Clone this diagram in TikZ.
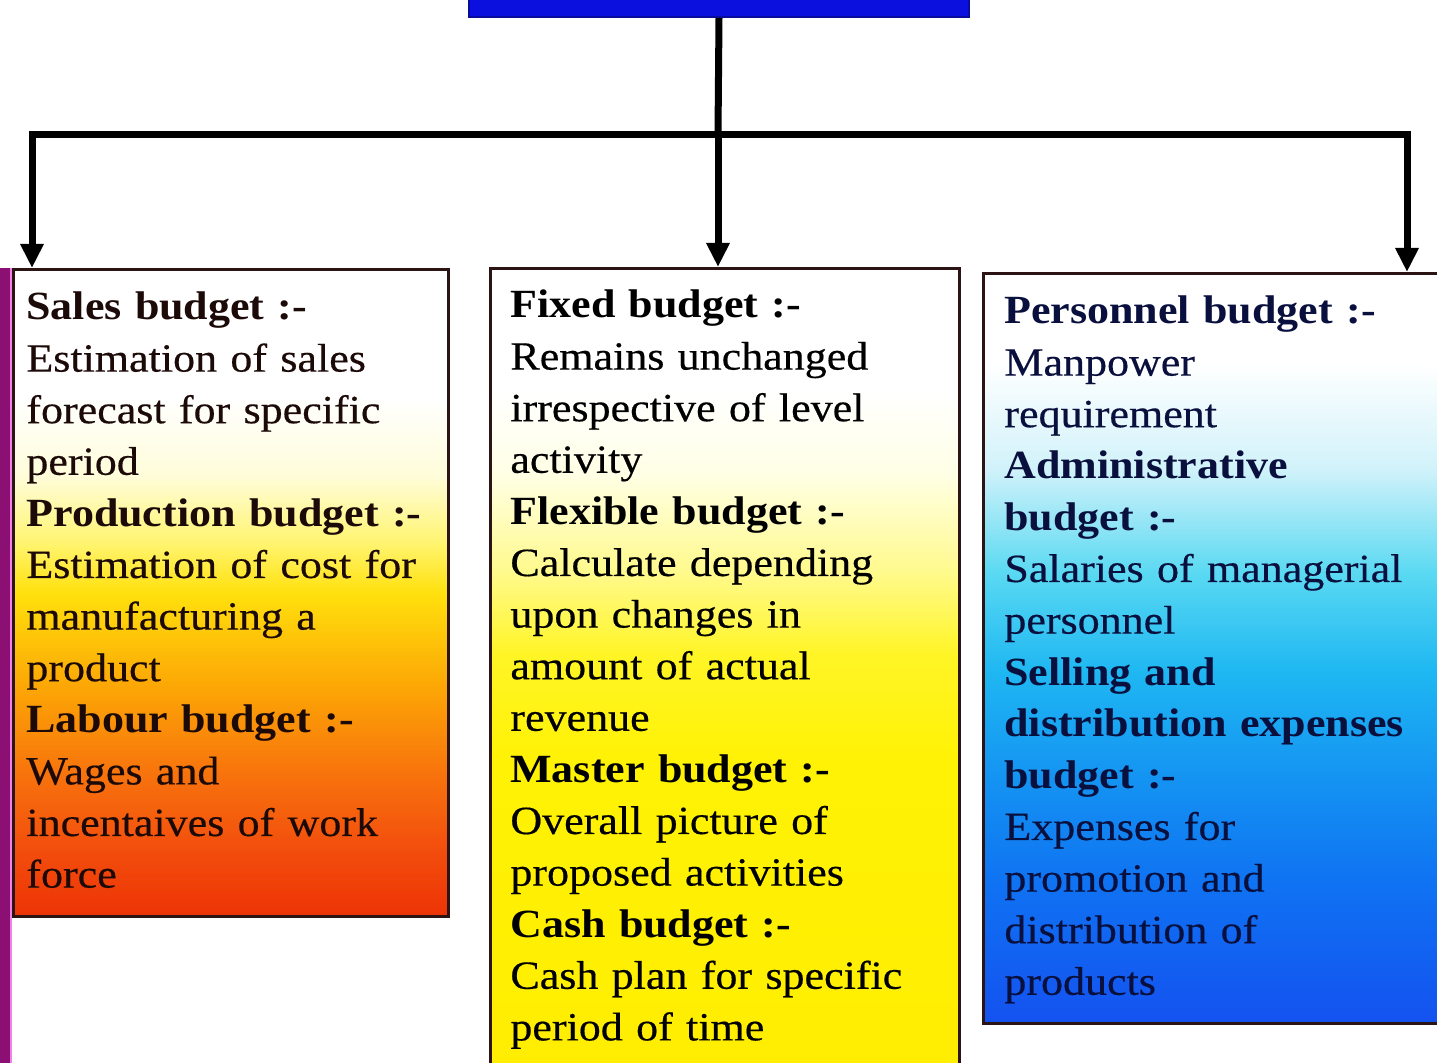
\documentclass[tikz,border=0pt]{standalone}
\usepackage{fontspec}
\setmainfont{Liberation Serif}[FakeStretch=1.1, WordSpace=0.6,
  UprightFeatures={FakeBold=0.4}]
\usetikzlibrary{arrows.meta}

\definecolor{rootblue}{RGB}{12,16,222}
\definecolor{edgedark}{RGB}{45,20,20}
\definecolor{stripdark}{RGB}{140,15,115}
\definecolor{strippink}{RGB}{240,130,230}
\definecolor{navytext}{RGB}{10,16,62}
\definecolor{browntext}{RGB}{28,10,8}

% white -> yellow -> orange -> red, top to bottom
\pgfdeclareverticalshading{salesfill}{100bp}{
  rgb(0bp)=(0.93,0.20,0.02);
  rgb(25bp)=(0.93,0.20,0.02);
  rgb(30bp)=(0.95,0.30,0.05);
  rgb(36bp)=(0.97,0.45,0.05);
  rgb(43bp)=(0.99,0.66,0.02);
  rgb(50bp)=(1,0.88,0.05);
  rgb(54bp)=(1,0.96,0.45);
  rgb(59bp)=(1,0.99,0.85);
  rgb(65bp)=(1,1,1);
  rgb(100bp)=(1,1,1)}

% white -> yellow, top to bottom
\pgfdeclareverticalshading{fixedfill}{100bp}{
  rgb(0bp)=(1,0.93,0);
  rgb(25bp)=(1,0.93,0);
  rgb(45bp)=(1,0.95,0.02);
  rgb(51.5bp)=(1,0.96,0.15);
  rgb(56.5bp)=(1,0.98,0.55);
  rgb(62.5bp)=(1,1,0.9);
  rgb(67.5bp)=(1,1,1);
  rgb(100bp)=(1,1,1)}

% white -> cyan -> blue, top to bottom
\pgfdeclareverticalshading{personnelfill}{100bp}{
  rgb(0bp)=(0.08,0.32,0.94);
  rgb(25bp)=(0.08,0.32,0.94);
  rgb(34.5bp)=(0.06,0.45,0.95);
  rgb(41.5bp)=(0.08,0.58,0.95);
  rgb(48.5bp)=(0.12,0.72,0.95);
  rgb(55bp)=(0.35,0.85,0.95);
  rgb(62bp)=(0.82,0.95,0.98);
  rgb(69bp)=(1,1,1);
  rgb(100bp)=(1,1,1)}

\begin{document}
\begin{tikzpicture}[x=0.5pt,y=-0.5pt,
  wire/.style={line width=3.5pt, black},
  drop/.style={wire, -{Triangle[length=12pt,width=11pt]}},
  panel/.style={rectangle, draw=edgedark, line width=1.5pt, inner sep=0pt, anchor=north west},
  body/.style={anchor=base west, inner sep=0pt, text width=270pt, align=left,
               font=\fontsize{20}{25.8}\selectfont},
]
\useasboundingbox (0,0) rectangle (1437,1063);
\clip (0,0) rectangle (1437,1063);

% heading box, cut off at the top edge
\node[rectangle, fill=rootblue, draw=rootblue!70!black, line width=1pt, inner sep=0pt,
      anchor=south west, minimum width=250pt, minimum height=40pt] (root) at (468,18) {};

% the three category panels
\node[panel, shading=salesfill, minimum width=217.5pt, minimum height=323.5pt]
  (sales) at (12,268) {};
\node[panel, shading=fixedfill, minimum width=234.5pt, minimum height=410pt]
  (fixed) at (489,267) {};
\node[panel, shading=personnelfill, minimum width=240pt, minimum height=375pt]
  (personnel) at (982,272) {};

% coloured strip along the left edge
\fill[stripdark] (0,268) rectangle (10,1063);
\draw[strippink, line width=1pt] (11,268) -- (11,1063);

% connectors
\coordinate (hub) at (718,135);
\coordinate (hl) at (32,135);
\coordinate (hr) at (1407,135);
\draw[wire] (root.south) -- (hub);
\draw[wire, line cap=rect] (hl) -- (hr);
\draw[drop] (hl) -- (hl |- sales.north);
\draw[drop] (hub) -- (hub |- fixed.north);
\draw[drop] (hr) -- (hr |- personnel.north);

% panel texts
\node[body, text=browntext] (salestext) at (26,320) {%
  \textbf{Sales budget :-}\\
  Estimation of sales\\
  forecast for specific\\
  period\\
  \textbf{Production budget :-}\\
  Estimation of cost for\\
  manufacturing a\\
  product\\
  \textbf{Labour budget :-}\\
  Wages and\\
  incentaives of work\\
  force};

\node[body, text=black] (fixedtext) at (510,318) {%
  \textbf{Fixed budget :-}\\
  Remains unchanged\\
  irrespective of level\\
  activity\\
  \textbf{Flexible budget :-}\\
  Calculate depending\\
  upon changes in\\
  amount of actual\\
  revenue\\
  \textbf{Master budget :-}\\
  Overall picture of\\
  proposed activities\\
  \textbf{Cash budget :-}\\
  Cash plan for specific\\
  period of time};

\node[body, text=navytext] (personneltext) at (1004,324) {%
  \textbf{Personnel budget :-}\\
  Manpower\\
  requirement\\
  \textbf{Administrative}\\
  \textbf{budget :-}\\
  Salaries of managerial\\
  personnel\\
  \textbf{Selling and}\\
  \textbf{distribution expenses}\\
  \textbf{budget :-}\\
  Expenses for\\
  promotion and\\
  distribution of\\
  products};
\end{tikzpicture}
\end{document}
